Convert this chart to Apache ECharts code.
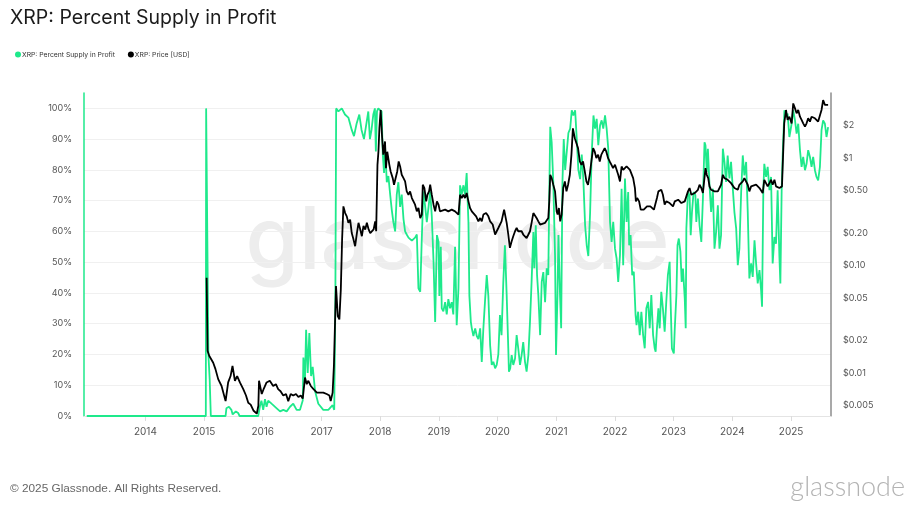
<!DOCTYPE html>
<html><head><meta charset="utf-8">
<script src="https://cdn.jsdelivr.net/npm/echarts@6/dist/echarts.min.js"></script>
<style>html,body{margin:0;padding:0;background:#fff}#c{width:915px;height:507px}</style>
</head><body><div id="c"></div>
<script>
// ---- Data ----
const pctDates = [
'2013-01-01','2015-01-12','2015-01-14','2015-01-24','2015-01-28','2015-02-05','2015-02-12','2015-05-15','2015-05-20','2015-06-05',
'2015-06-20','2015-06-28','2015-07-10','2015-07-18','2015-08-01','2015-08-10','2015-12-04','2015-12-14','2015-12-24','2016-01-04',
'2016-01-15','2016-01-25','2016-02-04','2016-02-25','2016-03-28','2016-04-18','2016-05-08','2016-05-29','2016-06-19','2016-07-09',
'2016-07-30','2016-08-20','2016-09-06','2016-09-10','2016-09-20','2016-09-27','2016-10-07','2016-10-17','2016-10-28','2016-11-07',
'2016-11-22','2016-12-12','2017-01-12','2017-02-12','2017-03-11','2017-03-21','2017-03-28','2017-04-02','2017-04-16','2017-05-07',
'2017-05-27','2017-06-17','2017-07-08','2017-07-22','2017-08-07','2017-08-24','2017-09-07','2017-09-22','2017-10-04','2017-10-19',
'2017-10-29','2017-11-08','2017-11-19','2017-11-29','2017-12-05','2017-12-12','2017-12-20','2017-12-30','2018-01-10','2018-01-17',
'2018-01-25','2018-01-31','2018-02-11','2018-02-21','2018-03-04','2018-03-14','2018-03-24','2018-04-04','2018-04-14','2018-04-24',
'2018-05-05','2018-05-15','2018-05-26','2018-06-05','2018-06-15','2018-06-26','2018-07-06','2018-07-17','2018-07-27','2018-08-06',
'2018-08-17','2018-08-27','2018-09-07','2018-09-17','2018-09-27','2018-10-08','2018-10-18','2018-10-29','2018-11-08','2018-11-18',
'2018-11-29','2018-12-09','2018-12-20','2018-12-30','2019-01-04','2019-01-13','2019-01-19','2019-01-29','2019-02-09','2019-02-19',
'2019-03-01','2019-03-12','2019-03-22','2019-04-01','2019-04-12','2019-04-22','2019-05-03','2019-05-13','2019-05-23','2019-06-03',
'2019-06-13','2019-06-23','2019-07-04','2019-07-10','2019-07-19','2019-07-25','2019-08-04','2019-08-15','2019-08-25','2019-09-04',
'2019-09-15','2019-09-25','2019-10-05','2019-10-16','2019-10-26','2019-11-05','2019-11-16','2019-11-26','2019-12-06','2019-12-17',
'2019-12-27','2020-01-06','2020-01-16','2020-01-26','2020-02-06','2020-02-16','2020-02-27','2020-03-08','2020-03-12','2020-03-20',
'2020-03-29','2020-04-08','2020-04-19','2020-04-29','2020-05-09','2020-05-20','2020-05-30','2020-06-09','2020-06-20','2020-06-30',
'2020-07-11','2020-07-21','2020-07-31','2020-08-11','2020-08-17','2020-08-26','2020-09-03','2020-09-11','2020-09-22','2020-10-02',
'2020-10-12','2020-10-23','2020-11-02','2020-11-12','2020-11-18','2020-11-24','2020-12-03','2020-12-13','2020-12-24','2020-12-30',
'2021-01-08','2021-01-14','2021-01-24','2021-01-31','2021-02-08','2021-02-16','2021-02-25','2021-03-07','2021-03-17','2021-03-28',
'2021-04-07','2021-04-17','2021-04-28','2021-05-08','2021-05-18','2021-05-29','2021-06-08','2021-06-18','2021-06-29','2021-07-09',
'2021-07-19','2021-07-30','2021-08-09','2021-08-20','2021-08-30','2021-09-09','2021-09-19','2021-09-30','2021-10-10','2021-10-20',
'2021-10-31','2021-11-10','2021-11-20','2021-12-01','2021-12-11','2021-12-21','2022-01-01','2022-01-11','2022-01-21','2022-02-01',
'2022-02-11','2022-02-21','2022-03-04','2022-03-14','2022-03-24','2022-03-30','2022-04-08','2022-04-18','2022-04-28','2022-05-09',
'2022-05-15','2022-05-25','2022-06-04','2022-06-14','2022-06-25','2022-07-05','2022-07-15','2022-07-26','2022-08-05','2022-08-15',
'2022-08-26','2022-09-05','2022-09-11','2022-09-19','2022-09-28','2022-10-06','2022-10-16','2022-10-26','2022-11-06','2022-11-16',
'2022-11-26','2022-12-07','2022-12-13','2022-12-21','2023-01-02','2023-01-08','2023-01-18','2023-01-25','2023-02-02','2023-02-12',
'2023-02-20','2023-02-28','2023-03-11','2023-03-17','2023-03-21','2023-03-31','2023-04-10','2023-04-17','2023-04-25','2023-05-05',
'2023-05-16','2023-05-22','2023-06-01','2023-06-11','2023-06-22','2023-07-02','2023-07-12','2023-07-18','2023-07-26','2023-08-02',
'2023-08-12','2023-08-22','2023-09-02','2023-09-12','2023-09-22','2023-10-03','2023-10-13','2023-10-23','2023-11-03','2023-11-13',
'2023-11-23','2023-12-03','2023-12-14','2023-12-24','2024-01-04','2024-01-14','2024-01-25','2024-02-04','2024-02-14','2024-02-25',
'2024-03-06','2024-03-16','2024-03-27','2024-04-06','2024-04-16','2024-04-27','2024-05-07','2024-05-18','2024-05-28','2024-06-07',
'2024-06-18','2024-06-28','2024-07-04','2024-07-12','2024-07-18','2024-07-29','2024-08-08','2024-08-19','2024-08-29','2024-09-08',
'2024-09-19','2024-09-29','2024-10-09','2024-10-20','2024-10-26','2024-11-03','2024-11-09','2024-11-20','2024-11-30','2024-12-10',
'2024-12-21','2025-01-04','2025-01-14','2025-01-25','2025-02-04','2025-02-14','2025-02-25','2025-03-07','2025-03-17','2025-03-28',
'2025-04-07','2025-04-17','2025-04-28','2025-05-08','2025-05-18','2025-05-29','2025-06-08','2025-06-18','2025-06-29','2025-07-09',
'2025-07-19','2025-07-30','2025-08-09','2025-08-19'
];
const pctValues = [
0,0,100,100,20,12,0,0,2.5,3,
2,0.5,0,1.5,1,0,0,3,5,2,
5.5,3,5,4,2.5,1.5,2,1.5,3,4,
2,2,5,19,12,28,14,27,13,16,
8,4,2,2,3.5,2,37,100,99,100,
98,97,93,91,95,98,93,90,94,99,
90,93,98,100,86,99,100,100,99,85,
79,88,76,78,72,67,63,60,72,76,
68,72,64,60,59,58,58,57,56.6,58,
59,41.5,40.4,58,73,68,63,68,73,65,
50,30.6,58.8,56.6,39,55,35,34,37,33,
38,35,37,33,55,29.5,41.5,75,72,75,
72,79,63,39,30.6,28.5,26,28.5,26,25,
28.5,17.6,28.5,38,45.8,39,23,16.6,17.6,15.5,
16.6,20,32.8,26.3,43.6,55.5,39.3,22,14.4,15.5,
19.8,16.6,18.7,26.3,22,16.6,19.8,24,17.6,14.4,
19.8,30.6,43.6,59.8,48,62,45.8,39.3,26.3,43.6,
46.8,37,48,45.8,71.8,94,89,76,52,19.8,
39.3,58.8,39.3,28.5,76,90,80,86,92,93.4,
99.4,97.7,99.4,90,80,77,85,77,62,55.5,
52,66,85,97.7,93.4,96.6,88,94.5,96.1,93.4,
97.7,93.4,86.9,63.1,56.6,63.1,54.4,51.2,43.6,52.3,
73.9,49,77.2,63.1,72.8,55.5,58.8,45.8,46.9,32.8,
29.5,33.9,26.3,33.9,26.3,22,35,37.1,28.5,39.3,
26.3,22,20.9,28.5,35,28.5,40.4,35,27.4,37.1,
45.8,50.1,37.1,22,20.3,28.5,39.3,55.5,57.7,53.4,
43.6,47.9,38.2,28.5,61,72.8,71.8,58.8,66.3,72.8,
71.8,63.1,70.7,62,56.6,70.7,89,88,79.3,86.9,
75,66.3,73.9,54.4,59.8,68.5,54.4,58.8,86.9,82.6,
76.1,84.7,77.2,82.6,73.9,66.3,60.9,49,54.4,72.8,
84.7,78.2,82.6,66.3,44.7,49.6,45.2,57.1,49.6,43.1,
47.4,40.9,35.5,73.4,82,77.7,81,73.4,77.7,49.6,
58.2,56,73.4,51.7,43.1,73.4,84.2,99.4,97.2,98.3,
90.7,95,99.4,96.1,91.8,95,86.4,81,84.2,79.9,
82,86.4,84.2,81,84.2,79.9,77.7,76.6,81,92.9,
96.1,95,90.7,93.9
];

const priceDates = [
'2015-01-17','2015-01-23','2015-02-02','2015-02-27','2015-03-13','2015-03-30','2015-04-20','2015-05-15','2015-05-31','2015-06-15',
'2015-06-27','2015-07-12','2015-07-26','2015-08-12','2015-09-02','2015-09-19','2015-10-03','2015-10-18','2015-11-04','2015-11-25',
'2015-12-05','2015-12-09','2015-12-26','2016-01-08','2016-01-25','2016-02-14','2016-03-06','2016-03-23','2016-04-06','2016-04-21',
'2016-05-08','2016-05-25','2016-06-08','2016-06-23','2016-07-09','2016-07-26','2016-08-10','2016-08-25','2016-09-06','2016-09-20',
'2016-10-01','2016-10-11','2016-10-26','2016-11-12','2016-12-03','2016-12-24','2017-01-12','2017-02-02','2017-02-19','2017-02-27',
'2017-03-11','2017-03-19','2017-03-26','2017-04-01','2017-04-12','2017-04-22','2017-05-01','2017-05-09','2017-05-17','2017-05-28',
'2017-06-07','2017-06-17','2017-06-28','2017-07-08','2017-07-19','2017-07-29','2017-08-09','2017-08-19','2017-08-30','2017-09-09',
'2017-09-19','2017-09-30','2017-10-10','2017-10-21','2017-10-31','2017-11-10','2017-11-21','2017-12-01','2017-12-07','2017-12-15',
'2017-12-21','2017-12-27','2018-01-04','2018-01-12','2018-01-20','2018-01-31','2018-02-06','2018-02-14','2018-02-27','2018-03-07',
'2018-03-20','2018-03-28','2018-04-09','2018-04-17','2018-04-26','2018-05-05','2018-05-15','2018-05-26','2018-06-05','2018-06-15',
'2018-06-26','2018-07-06','2018-07-17','2018-07-27','2018-08-06','2018-08-17','2018-08-27','2018-09-07','2018-09-17','2018-09-23',
'2018-10-03','2018-10-14','2018-10-22','2018-11-01','2018-11-08','2018-11-18','2018-11-29','2018-12-09','2018-12-20','2018-12-30',
'2019-01-08','2019-01-19','2019-02-09','2019-03-01','2019-03-22','2019-04-12','2019-05-03','2019-05-13','2019-05-23','2019-06-03',
'2019-06-13','2019-06-23','2019-07-04','2019-07-14','2019-07-25','2019-08-04','2019-08-21','2019-09-04','2019-09-15','2019-09-25',
'2019-10-05','2019-10-22','2019-11-05','2019-11-16','2019-12-02','2019-12-17','2019-12-27','2020-01-06','2020-01-26','2020-02-11',
'2020-02-27','2020-03-08','2020-03-18','2020-03-29','2020-04-08','2020-04-19','2020-04-29','2020-05-09','2020-05-20','2020-05-30',
'2020-06-09','2020-06-20','2020-06-30','2020-07-11','2020-07-21','2020-07-31','2020-08-11','2020-08-21','2020-08-31','2020-09-11',
'2020-09-22','2020-10-02','2020-10-23','2020-11-02','2020-11-12','2020-11-18','2020-11-24','2020-12-03','2020-12-13','2020-12-24',
'2021-01-03','2021-01-09','2021-01-17','2021-01-25','2021-02-03','2021-02-13','2021-02-23','2021-03-05','2021-03-15','2021-03-26',
'2021-04-05','2021-04-14','2021-04-26','2021-05-06','2021-05-16','2021-05-27','2021-06-06','2021-06-16','2021-06-27','2021-07-07',
'2021-07-17','2021-07-28','2021-08-07','2021-08-18','2021-08-28','2021-09-07','2021-09-18','2021-09-28','2021-10-08','2021-10-19',
'2021-10-29','2021-11-08','2021-11-19','2021-11-29','2021-12-10','2021-12-20','2022-01-01','2022-01-21','2022-02-01','2022-02-11',
'2022-02-21','2022-03-14','2022-03-24','2022-04-04','2022-04-14','2022-04-24','2022-05-05','2022-05-11','2022-05-19','2022-05-31',
'2022-06-10','2022-06-21','2022-06-29','2022-07-11','2022-07-19','2022-07-31','2022-08-09','2022-08-21','2022-08-31','2022-09-11',
'2022-09-19','2022-09-28','2022-10-06','2022-10-16','2022-10-26','2022-11-06','2022-11-16','2022-11-26','2022-12-07','2022-12-17',
'2022-12-28','2023-01-08','2023-01-18','2023-01-29','2023-02-08','2023-02-18','2023-02-28','2023-03-11','2023-03-21','2023-03-31',
'2023-04-10','2023-04-21','2023-05-01','2023-05-12','2023-05-22','2023-06-01','2023-06-11','2023-06-22','2023-07-02','2023-07-12',
'2023-07-18','2023-07-26','2023-08-04','2023-08-12','2023-08-22','2023-09-02','2023-09-12','2023-09-22','2023-10-03','2023-10-13',
'2023-10-23','2023-11-03','2023-11-13','2023-11-23','2023-12-03','2023-12-14','2023-12-24','2024-01-04','2024-01-14','2024-01-25',
'2024-02-04','2024-02-14','2024-02-25','2024-03-06','2024-03-16','2024-03-27','2024-04-06','2024-04-16','2024-04-27','2024-05-07',
'2024-05-28','2024-06-18','2024-07-08','2024-07-18','2024-07-29','2024-08-08','2024-08-19','2024-08-29','2024-09-08','2024-09-19',
'2024-09-29','2024-10-09','2024-10-20','2024-10-30','2024-11-05','2024-11-13','2024-11-19','2024-11-30','2024-12-10','2024-12-21',
'2025-01-04','2025-01-14','2025-01-25','2025-02-04','2025-02-14','2025-02-25','2025-03-07','2025-03-17','2025-03-28','2025-04-07',
'2025-04-17','2025-04-28','2025-05-08','2025-05-18','2025-05-29','2025-06-08','2025-06-18','2025-06-29','2025-07-09','2025-07-19',
'2025-07-30','2025-08-09','2025-08-19'
];
const priceValues = [
0.077,0.0161,0.0145,0.0125,0.0109,0.0088,0.0076,0.0055,0.0082,0.0094,
0.0117,0.0085,0.0094,0.0082,0.0071,0.0062,0.0053,0.0051,0.0045,0.0042,
0.0050,0.0085,0.0064,0.0072,0.0082,0.0085,0.0076,0.0079,0.0071,0.0068,
0.0062,0.0064,0.0055,0.0064,0.0062,0.0064,0.0060,0.0062,0.0058,0.0091,
0.0079,0.0085,0.0076,0.0071,0.0066,0.0066,0.0066,0.0064,0.0062,0.0055,
0.0066,0.0117,0.0296,0.0645,0.0339,0.0316,0.060,0.174,0.354,0.307,
0.286,0.249,0.267,0.200,0.174,0.151,0.200,0.249,0.216,0.187,
0.233,0.216,0.249,0.216,0.200,0.208,0.216,0.257,0.208,0.861,
1.14,1.88,2.78,1.63,1.07,1.42,0.80,1.14,0.86,0.747,
0.648,0.562,0.562,0.747,0.925,0.831,0.696,0.648,0.604,0.488,
0.454,0.488,0.423,0.394,0.367,0.318,0.342,0.276,0.297,0.562,
0.524,0.394,0.454,0.488,0.562,0.454,0.367,0.318,0.394,0.367,
0.318,0.307,0.330,0.318,0.330,0.318,0.297,0.454,0.423,0.454,
0.423,0.471,0.394,0.342,0.318,0.307,0.286,0.257,0.276,0.257,
0.297,0.307,0.286,0.257,0.240,0.194,0.194,0.223,0.257,0.330,
0.249,0.194,0.146,0.168,0.187,0.208,0.223,0.208,0.215,0.208,
0.194,0.187,0.180,0.194,0.208,0.249,0.307,0.297,0.276,0.257,
0.240,0.249,0.249,0.257,0.276,0.394,0.696,0.648,0.562,0.488,
0.318,0.297,0.342,0.257,0.297,0.524,0.604,0.488,0.562,0.696,
1.07,1.88,1.52,1.58,1.23,0.925,0.861,0.925,0.747,0.604,
0.562,0.696,0.925,1.23,1.14,0.993,1.07,0.925,1.07,1.03,
1.23,1.14,0.993,0.925,0.861,0.802,0.861,0.696,0.604,0.831,
0.774,0.831,0.861,0.774,0.747,0.648,0.524,0.394,0.423,0.394,
0.330,0.318,0.330,0.318,0.354,0.367,0.354,0.342,0.330,0.342,
0.423,0.488,0.471,0.505,0.454,0.367,0.394,0.408,0.380,0.367,
0.354,0.394,0.394,0.408,0.394,0.380,0.380,0.394,0.394,0.488,
0.524,0.454,0.454,0.471,0.471,0.505,0.562,0.524,0.471,0.488,
0.802,0.696,0.648,0.543,0.505,0.524,0.488,0.505,0.488,0.505,
0.562,0.696,0.648,0.648,0.625,0.625,0.582,0.562,0.524,0.543,
0.505,0.562,0.582,0.604,0.648,0.625,0.562,0.488,0.543,0.563,
0.563,0.524,0.471,0.625,0.625,0.543,0.582,0.625,0.563,0.625,
0.543,0.543,0.524,0.505,0.543,1.186,2.09,2.78,2.25,2.41,
2.09,3.2,2.88,2.59,2.78,2.41,2.25,2.09,1.95,2.09,
2.33,2.17,2.41,2.5,2.33,2.25,2.17,2.25,2.78,3.44,
3.1,3.2,3.1
];

const yearLabels = ['2014','2015','2016','2017','2018','2019','2020','2021','2022','2023','2024','2025'];
const pctTickStep = 10;
const priceTicks = [0.005, 0.01, 0.02, 0.05, 0.1, 0.2, 0.5, 1, 2];
const priceTickLabels = ['$0.005','$0.01','$0.02','$0.05','$0.10','$0.20','$0.50','$1','$2'];
const xRange = ['2012-12-15', '2025-09-06'];

const seriesNames = ['XRP: Percent Supply in Profit', 'XRP: Price [USD]'];

// ---- Chart ----
const GREEN = '#1ee98b';
const chart = echarts.init(document.getElementById('c'), null, {renderer: 'canvas', width: 915, height: 507});
const toTime = s => Date.parse(s + 'T00:00:00Z');
const yearTicks = yearLabels.map(y => toTime(y + '-01-01'));

const option = {
  animation: false,
  backgroundColor: '#ffffff',
  textStyle: {fontFamily: 'Inter'},
  title: {
    text: 'XRP: Percent Supply in Profit',
    left: 5, top: 3,
    textStyle: {fontSize: 19.5, fontWeight: 'normal', color: '#1b1b1b', fontFamily: 'Inter'}
  },
  legend: {
    left: 10, top: 46,
    icon: 'circle', itemWidth: 6, itemHeight: 6, itemGap: 13,
    textStyle: {fontSize: 6.8, color: '#333', fontFamily: 'Inter', padding: [0, 0, 0, -4]},
    data: seriesNames
  },
  graphic: [
    {type: 'text', left: 'center', top: 200, z: -1, silent: true,
     style: {text: 'glassnode', fontSize: 86, fontFamily: 'Inter', fontWeight: 500, fill: '#ededed'}},
    {type: 'text', left: 10, top: 483, silent: true,
     style: {text: '© 2025 Glassnode. All Rights Reserved.', fontSize: 11.8, fontFamily: 'Liberation Sans', fill: '#666'}},
    {type: 'text', right: 10, top: 474, silent: true,
     style: {text: 'glassnode', fontSize: 27, fontFamily: 'Lato', fontWeight: 300, fill: '#b3b3b3'}}
  ],
  grid: {left: 84, right: 84, top: 93, bottom: 91, containLabel: false},
  xAxis: {
    type: 'value',
    min: toTime(xRange[0]), max: toTime(xRange[1]),
    axisLine: {show: true, onZero: false, lineStyle: {color: '#e4e4e4', width: 1}},
    axisTick: {show: true, customValues: yearTicks, length: 5, lineStyle: {color: '#dcdcdc'}},
    axisLabel: {
      customValues: yearTicks,
      formatter: v => String(new Date(v).getUTCFullYear()),
      color: '#555', fontSize: 10, margin: 11, fontFamily: 'Inter'
    },
    splitLine: {show: false}
  },
  yAxis: [
    {
      type: 'value', position: 'left', min: 0, max: 105, interval: pctTickStep,
      axisLine: {show: true, lineStyle: {color: GREEN, width: 1.5}},
      axisTick: {show: false},
      axisLabel: {
        formatter: v => (v > 100 ? '' : v + '%'),
        showMaxLabel: false,
        color: '#555', fontSize: 9, margin: 12, fontFamily: 'Inter'
      },
      splitLine: {show: true, showMaxLine: false, lineStyle: {color: '#f0f0f0', width: 1}}
    },
    {
      type: 'log', logBase: 10, position: 'right', min: 0.004, max: 4,
      axisLine: {show: true, lineStyle: {color: '#8c8c8c', width: 1.5}},
      axisTick: {show: false},
      axisLabel: {
        customValues: priceTicks,
        formatter: v => {
          const i = priceTicks.findIndex(t => Math.abs(t - v) / t < 1e-6);
          return i >= 0 ? priceTickLabels[i] : '';
        },
        color: '#555', fontSize: 9, margin: 12, fontFamily: 'Inter'
      },
      splitLine: {show: false}
    }
  ],
  series: [
    {
      name: seriesNames[0], type: 'line', yAxisIndex: 0, showSymbol: false, z: 2,
      color: GREEN,
      lineStyle: {color: GREEN, width: 1.8},
      data: pctDates.map((d, i) => [toTime(d), pctValues[i]])
    },
    {
      name: seriesNames[1], type: 'line', yAxisIndex: 1, showSymbol: false, z: 3,
      color: '#000',
      lineStyle: {color: '#000', width: 1.8},
      data: priceDates.map((d, i) => [toTime(d), priceValues[i]])
    }
  ]
};
chart.setOption(option);
</script>
</body></html>
